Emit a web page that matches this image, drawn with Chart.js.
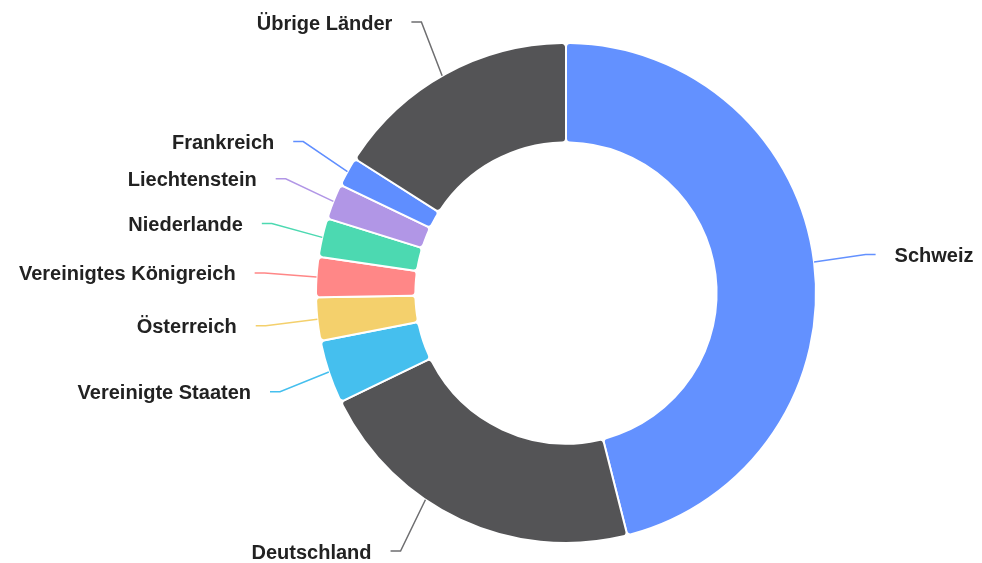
<!DOCTYPE html>
<html>
<head>
<meta charset="utf-8">
<script src="https://cdn.jsdelivr.net/npm/chart.js@4"></script>
<style>
  html, body { margin: 0; padding: 0; background: #ffffff; }
  #wrap { width: 982px; height: 563px; position: relative; }
</style>
</head>
<body>
<div id="wrap"><canvas id="c" width="982" height="563"></canvas></div>
<script>
const categories = ["Schweiz", "Deutschland", "Vereinigte Staaten", "Österreich", "Vereinigtes Königreich", "Niederlande", "Liechtenstein", "Frankreich", "Übrige Länder"];
const shares = [46.1, 21.8, 4.1, 2.8, 2.6, 2.5, 2.3, 1.9, 16.0];
const sliceColors = ["#6391FF", "#545456", "#45BFEE", "#F4D06C", "#FF8787", "#4CD9B1", "#B196E6", "#5F8EFF", "#545456"];
const lineColors = ["#6391FF", "#6E6E70", "#45BFEE", "#F4D06C", "#FF8787", "#4CD9B1", "#B196E6", "#5F8EFF", "#6E6E70"];

const outsideLabels = {
  id: 'outsideLabels',
  afterDatasetsDraw(chart) {
    const ctx = chart.ctx;
    const meta = chart.getDatasetMeta(0);
    ctx.save();
    ctx.font = 'bold 20px "Liberation Sans", Arial, sans-serif';
    ctx.textBaseline = 'middle';
    meta.data.forEach((arc, i) => {
      const p = arc.getProps(['x', 'y', 'startAngle', 'endAngle', 'outerRadius'], true);
      const mid = (p.startAngle + p.endAngle) / 2;
      const rl = p.outerRadius + 62;
      let ly = p.y + Math.sin(mid) * rl;
      ly = Math.max(22, Math.min(551, ly));
      const left = Math.cos(mid) < 0;
      const dy = ly - p.y;
      const dx = Math.sqrt(Math.max(rl * rl - dy * dy, 0));
      const lx = left ? p.x - dx : p.x + dx;
      const ang = Math.atan2(ly - p.y, lx - p.x);
      const ax = p.x + Math.cos(ang) * p.outerRadius;
      const ay = p.y + Math.sin(ang) * p.outerRadius;
      const cx = left ? lx + 10 : lx - 10;
      ctx.strokeStyle = lineColors[i];
      ctx.lineWidth = 1.5;
      ctx.beginPath();
      ctx.moveTo(ax, ay);
      ctx.lineTo(cx, ly);
      ctx.lineTo(lx, ly);
      ctx.stroke();
      ctx.fillStyle = '#222222';
      ctx.textAlign = left ? 'right' : 'left';
      ctx.fillText(chart.data.labels[i], left ? lx - 19 : lx + 19, ly + 2);
    });
    ctx.restore();
  }
};

new Chart(document.getElementById('c'), {
  type: 'doughnut',
  data: {
    labels: categories,
    datasets: [{
      data: shares,
      backgroundColor: sliceColors,
      borderColor: '#ffffff',
      borderWidth: 2,
      borderRadius: 4,
      hoverOffset: 0
    }]
  },
  options: {
    responsive: false,
    animation: false,
    radius: 250,
    cutout: 150,
    layout: { padding: { left: 316, right: 166, top: 43, bottom: 20 } },
    plugins: {
      legend: { display: false },
      tooltip: { enabled: false }
    }
  },
  plugins: [outsideLabels]
});
</script>
</body>
</html>
